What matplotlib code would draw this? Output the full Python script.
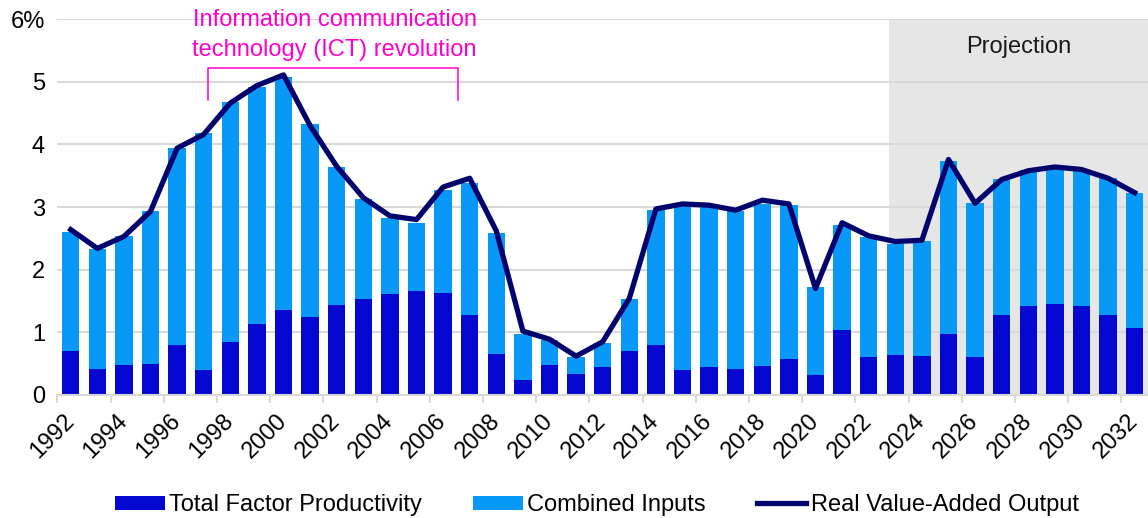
import numpy as np
import matplotlib
matplotlib.use('Agg')
import matplotlib.pyplot as plt

plt.rcParams['font.family'] = ['Liberation Sans', 'DejaVu Sans']
plt.rcParams['font.size'] = 17

years = [str(y) for y in range(1992, 2033)]

tfp = [0.70, 0.42, 0.48, 0.50, 0.79, 0.40, 0.85, 1.14, 1.35, 1.25,
       1.44, 1.53, 1.61, 1.66, 1.63, 1.28, 0.66, 0.24, 0.48, 0.34,
       0.44, 0.70, 0.79, 0.40, 0.45, 0.42, 0.47, 0.58, 0.32, 1.04,
       0.60, 0.64, 0.62, 0.97, 0.61, 1.28, 1.42, 1.46, 1.42, 1.28, 1.07]

combined_inputs = [1.90, 1.91, 2.06, 2.44, 3.16, 3.78, 3.83, 3.78, 3.72, 3.07,
                   2.20, 1.60, 1.22, 1.09, 1.64, 2.11, 1.92, 0.73, 0.40, 0.27,
                   0.39, 0.83, 2.16, 2.63, 2.57, 2.52, 2.58, 2.45, 1.40, 1.68,
                   1.92, 1.77, 1.84, 2.77, 2.45, 2.17, 2.17, 2.17, 2.17, 2.18, 2.16]

output = [2.64, 2.34, 2.53, 2.93, 3.94, 4.16, 4.66, 4.94, 5.11, 4.30,
          3.65, 3.15, 2.86, 2.80, 3.32, 3.46, 2.62, 1.02, 0.89, 0.62,
          0.85, 1.54, 2.97, 3.05, 3.03, 2.95, 3.11, 3.05, 1.70, 2.75,
          2.54, 2.45, 2.47, 3.76, 3.06, 3.44, 3.58, 3.64, 3.60, 3.46, 3.23]

projection_start = '2023'
ict_start, ict_end = '1997', '2006'

x = np.arange(len(years))

fig = plt.figure(figsize=(11.48, 5.18), dpi=100)
ax = fig.add_axes([0.05, 0.2375, 0.95, 0.7255])

# projection shading
p0 = years.index(projection_start) - 0.22
ax.axvspan(p0, len(years) - 0.5, color='#E6E6E6', zorder=0, lw=0)
ax.text((p0 + len(years) - 0.5) / 2, 5.55, 'Projection', ha='center', va='center', color='#1a1a1a')

b_tfp = ax.bar(x, tfp, width=0.65, color='#0408D0', label='Total Factor Productivity', zorder=2)
b_ci = ax.bar(x, combined_inputs, width=0.65, bottom=tfp, color='#0899F8', label='Combined Inputs', zorder=2)
l_out, = ax.plot(x, output, color='#03036E', lw=3.8, label='Real Value-Added Output', zorder=3,
                 solid_joinstyle='round')

ax.set_xlim(-0.5, len(years) - 0.5)
ax.set_ylim(0, 6)
ax.set_yticks(range(7))
ax.set_yticklabels(['0', '1', '2', '3', '4', '5', '6%'])
ax.yaxis.grid(True, color='#D9D9D9', lw=1.5, zorder=1)
ax.set_axisbelow(True)
ax.tick_params(axis='y', length=0, pad=9)

ax.set_xticks(x[::2])
ax.set_xticklabels(years[::2], rotation=45, ha='right', va='center', rotation_mode='anchor')
ax.set_xticks(np.arange(-0.5, len(years) - 0.5, 2), minor=True)
ax.tick_params(axis='x', which='major', length=0, pad=16)
ax.tick_params(axis='x', which='minor', length=6, width=1.5, color='#D9D9D9')

for s in ['top', 'right', 'left']:
    ax.spines[s].set_visible(False)
ax.spines['bottom'].set_color('#D9D9D9')
ax.spines['bottom'].set_linewidth(1.5)

# ICT bracket
b0 = years.index(ict_start) + 0.18
b1 = years.index(ict_end) + 0.57
mag = '#FF00CC'
ax.plot([b0, b0, b1, b1], [4.71, 5.22, 5.22, 4.71], color=mag, lw=1.1, clip_on=False, zorder=4)
ax.text((b0 + b1) / 2 + 0.05, 5.75, 'Information communication\ntechnology (ICT) revolution',
        ha='center', va='center', color=mag, linespacing=1.45, zorder=4)

fig.legend([b_tfp, b_ci, l_out], ['Total Factor Productivity', 'Combined Inputs', 'Real Value-Added Output'],
           loc='center', bbox_to_anchor=(0.52, 0.025), ncol=3, frameon=False,
           handlelength=2.1, handleheight=0.55, handletextpad=0.2, columnspacing=2.15)

fig.savefig('out.png', dpi=100)
